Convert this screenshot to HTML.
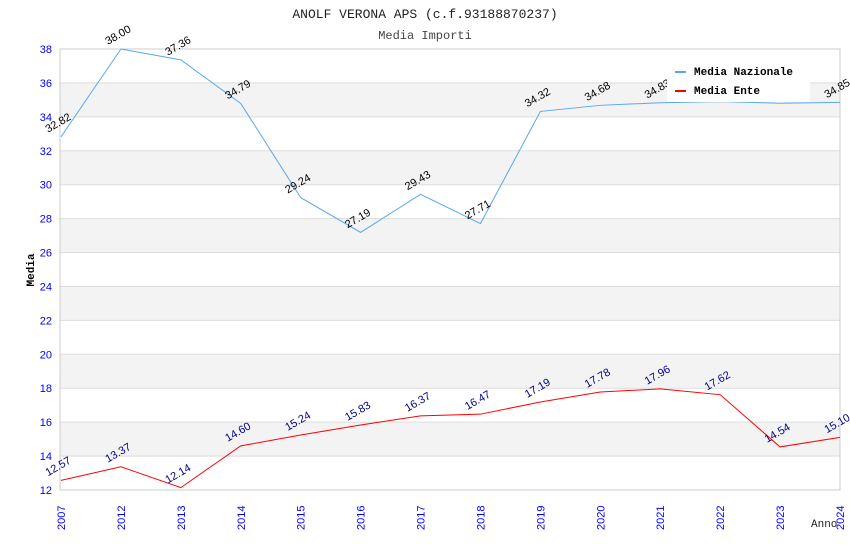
<!DOCTYPE html>
<html><head><meta charset="utf-8"><style>
body{margin:0;background:#fff;}
svg text{font-family:"Liberation Sans",sans-serif;}
</style></head><body>
<svg id="c" width="850" height="550" xmlns="http://www.w3.org/2000/svg">
<text x="425" y="18" text-anchor="middle" font-size="13" fill="#222" style="font-family:'Liberation Mono',monospace">ANOLF VERONA APS (c.f.93188870237)</text>
<text x="425" y="39" text-anchor="middle" font-size="12" fill="#444" style="font-family:'Liberation Mono',monospace">Media Importi</text>
<g id="bands"></g><g id="grid"></g><g id="axes"></g><g id="series"></g><g id="labels"></g>
<text transform="translate(34,270) rotate(-90)" text-anchor="middle" font-size="11" font-weight="bold" style="font-family:'Liberation Mono',monospace">Media</text>
<text x="811" y="527" font-size="11" style="font-family:'Liberation Mono',monospace" fill="#222">Anno</text>
<g>
<rect x="667" y="60" width="143" height="42" fill="#fff"/>
<rect x="675" y="71" width="11" height="2" fill="#5aa7f0"/>
<text x="694" y="75" font-size="11" font-weight="bold" style="font-family:'Liberation Mono',monospace">Media Nazionale</text>
<rect x="675" y="90" width="11" height="2" fill="#f00"/>
<text x="694" y="94" font-size="11" font-weight="bold" style="font-family:'Liberation Mono',monospace">Media Ente</text>
</g>
</svg>
<script>
const years=["2007","2012","2013","2014","2015","2016","2017","2018","2019","2020","2021","2022","2023","2024"];
const nazionale=[32.82,38.00,37.36,34.79,29.24,27.19,29.43,27.71,34.32,34.68,34.83,34.90,34.80,34.85];
const ente=[12.57,13.37,12.14,14.60,15.24,15.83,16.37,16.47,17.19,17.78,17.96,17.62,14.54,15.10];
const yTicks=[12,14,16,18,20,22,24,26,28,30,32,34,36,38];
const NS="http://www.w3.org/2000/svg";
const L=60,R=840,T=49,B=490,yMin=12,yMax=38;
const xs=i=>L+1+i*(R-L-1)/(years.length-1);
const ys=v=>B-(v-yMin)/(yMax-yMin)*(B-T);
function mk(p,t,a){const e=document.createElementNS(NS,t);for(const k in a)e.setAttribute(k,a[k]);document.getElementById(p).appendChild(e);return e;}
for(let i=0;i<yTicks.length-1;i++){
 if(i%2==1){const r=mk('bands','rect',{x:L,y:ys(yTicks[i+1]),width:R-L,height:ys(yTicks[i])-ys(yTicks[i+1]),fill:'#f3f3f3'});
 
 }
}
yTicks.forEach(v=>{
 const g=mk('grid','line',{x1:L,x2:R,y1:ys(v),y2:ys(v),stroke:'#ddd','stroke-width':1});
 
 
 const t=mk('axes','text',{x:L-8,y:ys(v)+4,'text-anchor':'end','font-size':11,fill:'#00f'});t.textContent=v;
 
 
});
const fr=mk('axes','rect',{x:L,y:T,width:R-L,height:B-T,fill:'none',stroke:'#ccc'});


years.forEach((y,i)=>{
 const t=mk('axes','text',{transform:`translate(${xs(i)+4},${B+40}) rotate(-90)`,'font-size':11,fill:'#00f'});t.textContent=y;
 
 
});
function series(vals,color,lc,name){
 const p=mk('series','polyline',{points:vals.map((v,i)=>xs(i)+','+ys(v)).join(' '),fill:'none',stroke:color,'stroke-width':1});
 
 
 vals.forEach((v,i)=>{
  const t=mk('labels','text',{transform:`translate(${xs(i)-13},${ys(v)-4}) rotate(-30)`,'font-size':11,fill:lc});
  t.textContent=v.toFixed(2);
  
  
 });
}
series(nazionale,'#5aa7f0','#000','nazionale');
series(ente,'#f00','#00008b','ente');
</script>
</body></html>
